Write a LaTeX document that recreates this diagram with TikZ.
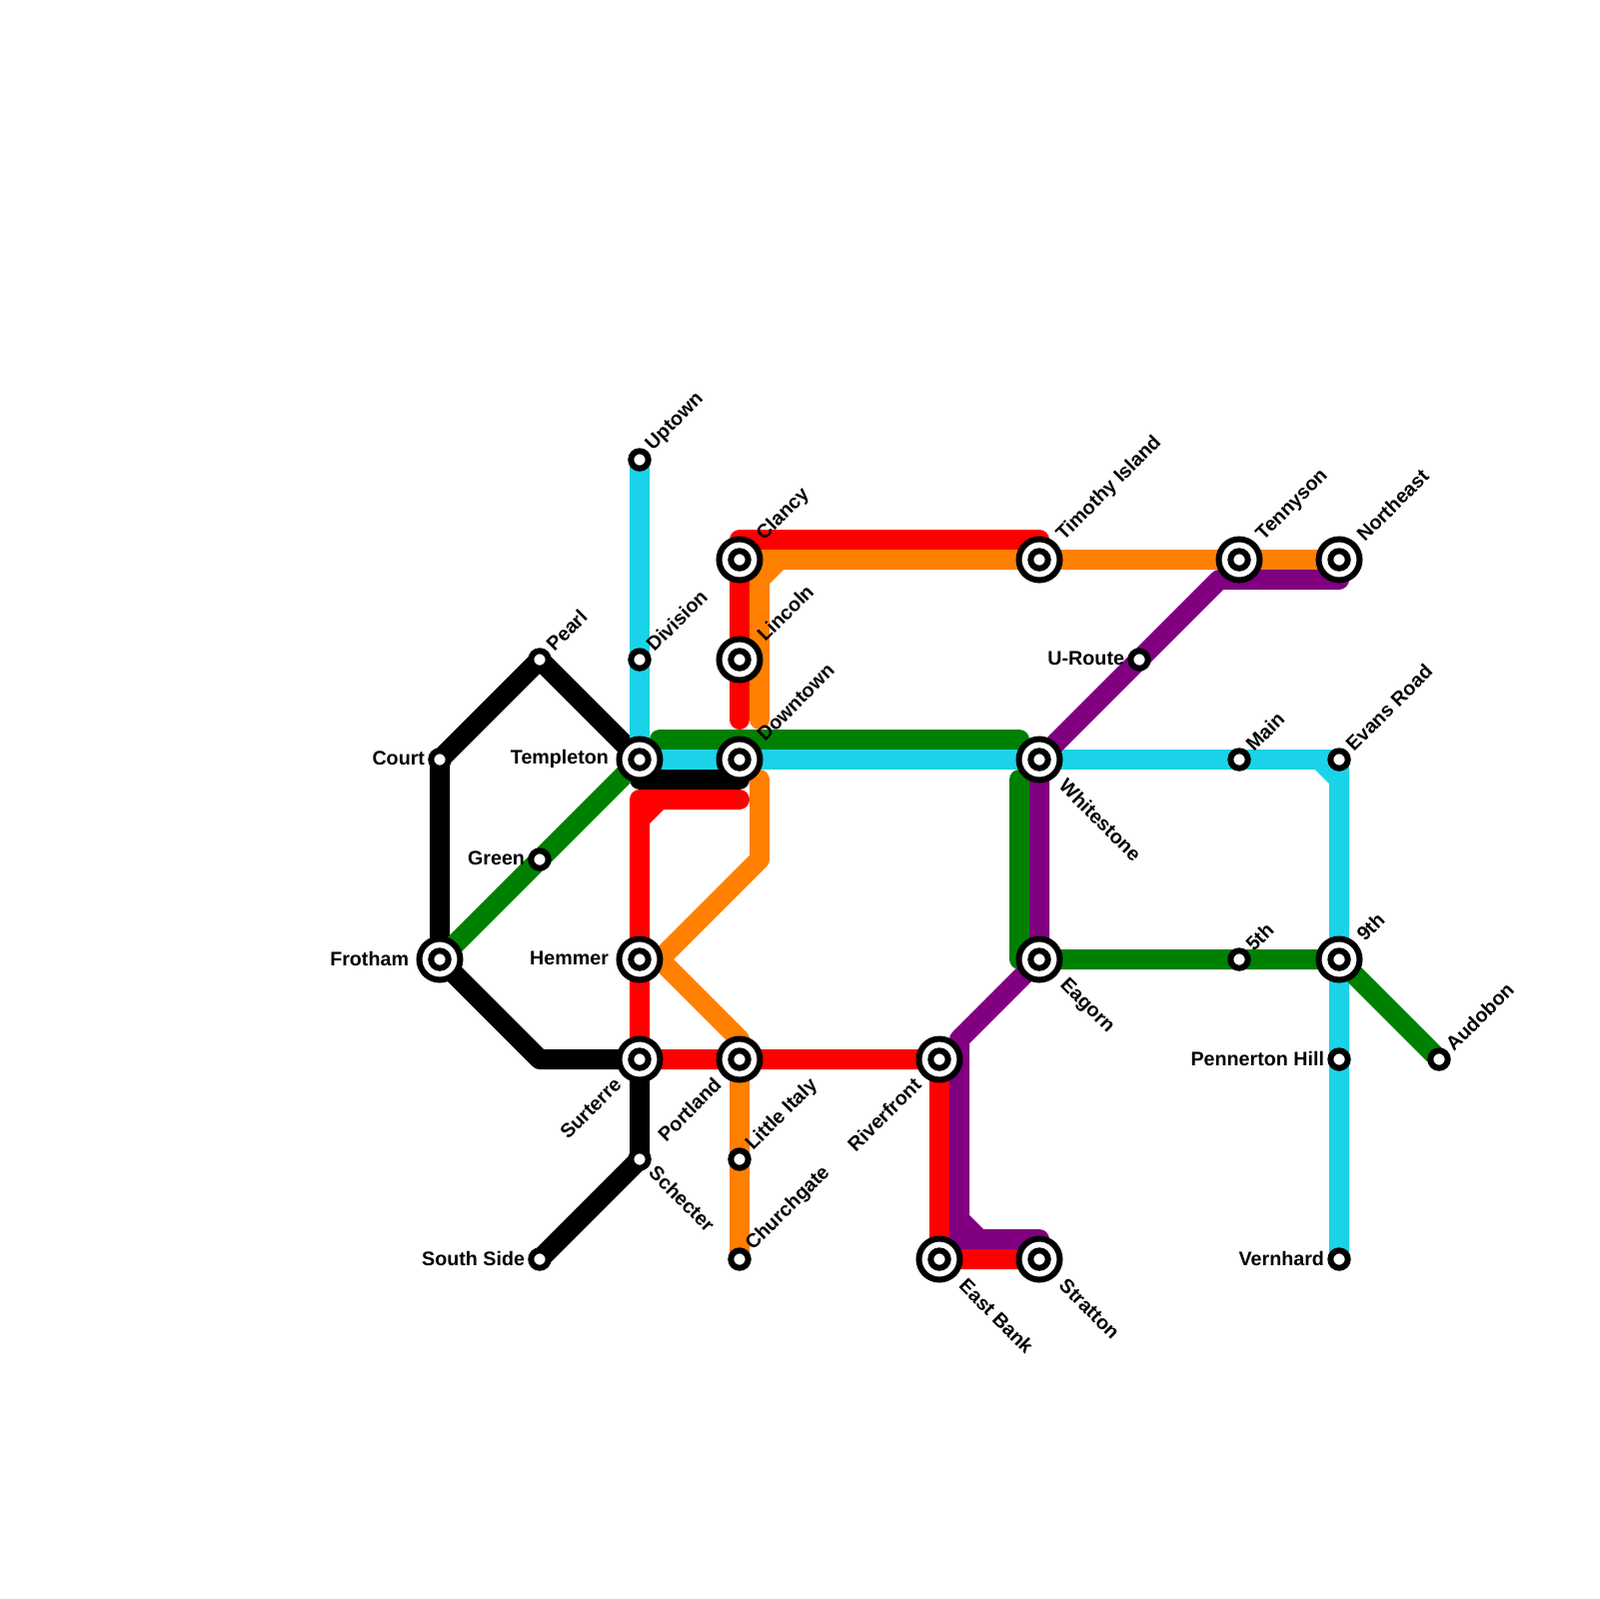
\documentclass[tikz,border=0pt]{standalone}
\usepackage{xcolor}
\usepackage{fontspec}
\setmainfont{Liberation Sans}
\usetikzlibrary{backgrounds}
\definecolor{linecyan}{HTML}{1BD3E8}
\definecolor{lineorange}{HTML}{FF8000}
\definecolor{linegreen}{HTML}{008000}
\definecolor{linepurple}{HTML}{800080}

\begin{document}
\begin{tikzpicture}[
        x = 0.1mm, y = -0.1mm,
        every node/.style = {font=\fontsize{5.6}{6.7}\selectfont\bfseries, inner sep=0pt, outer sep=0pt},
        % Stations
        stop/.style = {circle, draw=black, fill=white, line width=0.6mm, minimum size=1.74mm},
        hub/.style = {
            circle, draw=black, fill=white, line width=0.6mm, minimum size=4.1mm,
            path picture={\draw[line width=0.6mm, fill=white] (path picture bounding box.center) circle (8.7);}
        },
        % Lines
        route/.style = {line width=2mm, line cap=round, line join=round},
        % Station names
        tagne/.style = {rotate=45, anchor=west},
        tagse/.style = {rotate=-45, anchor=west},
        tagsw/.style = {rotate=45, anchor=east},
        hubne/.style = {shift={(21,-22)}, tagne},
        hubse/.style = {shift={(23.5,23)}, tagse},
        hubsw/.style = {shift={(-22,22)}, tagsw},
        hubw/.style = {shift={(-31,-1)}, anchor=east},
        stopne/.style = {shift={(10,-12)}, tagne},
        stopse/.style = {shift={(13,10)}, tagse},
        stopw/.style = {shift={(-15,-1)}, anchor=east}
    ]
        \useasboundingbox (0,0) rectangle (1600,1600);

        % 1. Stations
        \foreach \name/\px/\py in {clancy/740/560, lincoln/740/660, downtown/740/760,
            templeton/640/760, hemmer/640/960, surterre/640/1060, portland/740/1060,
            riverfront/940/1060, eastbank/940/1260, stratton/1040/1260, eagorn/1040/960,
            whitestone/1040/760, timothy/1040/560, tennyson/1240/560, northeast/1340/560,
            ninth/1340/960, frotham/440/960}
            \node (\name) [hub] at (\px,\py) {};
        \foreach \name/\px/\py in {uptown/640/460, division/640/660, pearl/540/660,
            court/440/760, green/540/860, southside/540/1260, schecter/640/1160,
            littleitaly/740/1160, churchgate/740/1260, uroute/1140/660, main/1240/760,
            evans/1340/760, fifth/1240/960, pennerton/1340/1060, vernhard/1340/1260,
            audobon/1440/1060}
            \node (\name) [stop] at (\px,\py) {};
        \coordinate (bend) at (540,1060);

        % 2. Lines, under the stations
        \begin{scope}[on background layer]
            % black
            \draw [route, black] (templeton.center) -- (pearl.center) -- (court.center) -- (frotham.center)
                -- (bend) -- (surterre.center) -- (schecter.center) -- (southside.center);
            \draw [route, black] ([shift={(0,20)}]templeton.center) -- ([shift={(0,20)}]downtown.center);
            % cyan
            \draw [route, linecyan] (uptown.center) -- (templeton.center) -- (evans.center) -- (vernhard.center)
                ([shift={(-20,0)}]evans.center) -- ([shift={(0,20)}]evans.center);
            % green
            \draw [route, linegreen] (frotham.center) -- (templeton.center);
            \draw [route, linegreen] ([shift={(20,-20)}]templeton.center) -- ([shift={(-20,-20)}]whitestone.center);
            \draw [route, linegreen] ([shift={(-20,20)}]whitestone.center) -- ([shift={(-20,0)}]eagorn.center)
                -- (ninth.center) -- (audobon.center);
            % red
            \draw [route, red] ([shift={(0,-20)}]timothy.center) -- ([shift={(0,-20)}]clancy.center)
                -- ([shift={(0,-40)}]downtown.center);
            \draw [route, red] ([shift={(0,40)}]downtown.center) -- ([shift={(0,40)}]templeton.center)
                -- (surterre.center) -- (riverfront.center) -- (eastbank.center) -- (stratton.center)
                ([shift={(20,40)}]templeton.center) -- ([shift={(0,60)}]templeton.center);
            % orange
            \draw [route, lineorange] ([shift={(20,-40)}]downtown.center) -- ([shift={(20,0)}]clancy.center)
                -- (northeast.center)
                ([shift={(20,20)}]clancy.center) -- ([shift={(40,0)}]clancy.center);
            \draw [route, lineorange] ([shift={(20,20)}]downtown.center) -- ([shift={(20,-200)}]portland.center)
                -- ([shift={(20,0)}]hemmer.center) -- ([shift={(0,-20)}]portland.center) -- (churchgate.center);
            % purple
            \draw [route, linepurple] ([shift={(0,20)}]northeast.center) -- ([shift={(-20,20)}]tennyson.center)
                -- (whitestone.center) -- (eagorn.center) -- ([shift={(20,-20)}]riverfront.center)
                -- ([shift={(20,-20)}]eastbank.center) -- ([shift={(0,-20)}]stratton.center)
                ([shift={(20,-40)}]eastbank.center) -- ([shift={(40,-20)}]eastbank.center);
        \end{scope}

        % 3. Station names
        \foreach \name/\sty/\txt in {clancy/hubne/Clancy, lincoln/hubne/Lincoln, downtown/hubne/Downtown,
            timothy/hubne/Timothy Island, tennyson/hubne/Tennyson, northeast/hubne/Northeast,
            ninth/hubne/9th, whitestone/hubse/Whitestone, eagorn/hubse/Eagorn,
            eastbank/hubse/East Bank, stratton/hubse/Stratton, surterre/hubsw/Surterre,
            portland/hubsw/Portland, riverfront/hubsw/Riverfront, templeton/hubw/Templeton,
            hemmer/hubw/Hemmer, frotham/hubw/Frotham, uptown/stopne/Uptown, division/stopne/Division,
            pearl/stopne/Pearl, littleitaly/stopne/Little Italy, churchgate/stopne/Churchgate,
            main/stopne/Main, evans/stopne/Evans Road, fifth/stopne/5th, audobon/stopne/Audobon,
            schecter/stopse/Schecter, court/stopw/Court, green/stopw/Green, southside/stopw/South Side,
            uroute/stopw/U-Route, pennerton/stopw/Pennerton Hill, vernhard/stopw/Vernhard}
            \node (\name-tag) [\sty] at (\name.center) {\txt};

\end{tikzpicture}
\end{document}
